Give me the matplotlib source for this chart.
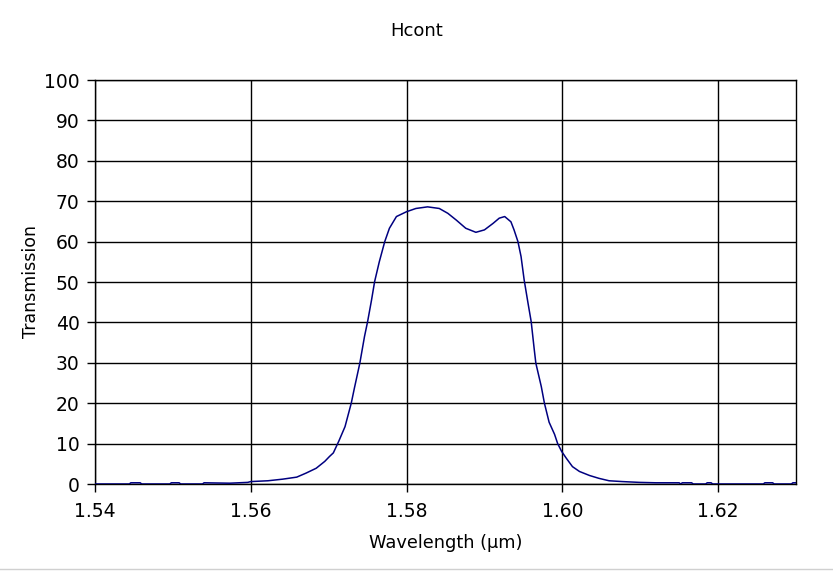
import matplotlib
matplotlib.use("Agg")
import matplotlib.pyplot as plt
from matplotlib.lines import Line2D

wavelength = [1.5400, 1.5444, 1.5446, 1.5458, 1.5460, 1.5496, 1.5498, 1.5508, 1.5510,
              1.5538, 1.5540, 1.5573, 1.5596, 1.5600, 1.5622, 1.5641, 1.5659, 1.5671,
              1.5684, 1.5695, 1.5701, 1.5706, 1.5713, 1.5721, 1.5729, 1.5733, 1.5740,
              1.5746, 1.5750, 1.5755, 1.5759, 1.5765, 1.5772, 1.5778, 1.5787, 1.5800,
              1.5812, 1.5827, 1.5842, 1.5853, 1.5864, 1.5876, 1.5889, 1.5900, 1.5911,
              1.5919, 1.5926, 1.5934, 1.5938, 1.5943, 1.5947, 1.5951, 1.5956, 1.5960,
              1.5964, 1.5966, 1.5973, 1.5977, 1.5983, 1.5990, 1.5994, 1.5999, 1.6005,
              1.6013, 1.6022, 1.6035, 1.6047, 1.6060, 1.6077, 1.6099, 1.6120, 1.6150,
              1.6152, 1.6154, 1.6166, 1.6168, 1.6184, 1.6186, 1.6191, 1.6193, 1.6258,
              1.6260, 1.6270, 1.6272, 1.6294, 1.6296, 1.6300]
transmission = [0.0, 0.0, 0.3, 0.3, 0.0, 0.0, 0.3, 0.3, 0.0,
                0.0, 0.3, 0.2, 0.4, 0.6, 0.8, 1.2, 1.7, 2.7,
                3.9, 5.6, 6.8, 7.7, 10.6, 14.2, 20.0, 23.7, 29.9,
                36.5, 40.2, 45.5, 50.1, 55.0, 60.0, 63.3, 66.2, 67.4,
                68.2, 68.6, 68.2, 67.0, 65.3, 63.3, 62.3, 62.9, 64.5,
                65.8, 66.2, 64.9, 62.9, 60.0, 56.3, 50.5, 44.7, 40.2,
                33.2, 29.9, 24.1, 20.0, 15.3, 12.3, 10.0, 8.1, 6.4,
                4.3, 3.1, 2.1, 1.4, 0.8, 0.6, 0.4, 0.3, 0.3,
                0.0, 0.3, 0.3, 0.0, 0.0, 0.3, 0.3, 0.0, 0.0,
                0.3, 0.3, 0.0, 0.0, 0.3, 0.3]

x_ticks = [1.54, 1.56, 1.58, 1.60, 1.62]
x_tick_labels = ["1.54", "1.56", "1.58", "1.60", "1.62"]
y_ticks = [0, 10, 20, 30, 40, 50, 60, 70, 80, 90, 100]

plt.rcParams['font.family'] = ['DejaVu Sans']

fig = plt.figure(figsize=(8.33, 5.71), dpi=100)
ax = fig.add_axes([95/833, 1 - 484/571, (796 - 95)/833, (484 - 80)/571])

ax.plot(wavelength, transmission, color='#000080', linewidth=1.1, zorder=3)

ax.set_xlim(1.54, 1.63)
ax.set_ylim(0, 100)
ax.set_xticks(x_ticks)
ax.set_xticklabels(x_tick_labels)
ax.set_yticks(y_ticks)
ax.grid(True, color='black', linewidth=1.0)
ax.set_axisbelow(True)
for s in ax.spines.values():
    s.set_color('black')
    s.set_linewidth(1.0)
ax.tick_params(axis='both', direction='out', length=6, width=1.0, color='black',
               labelsize=13.5, pad=5)
ax.tick_params(axis='x', pad=7)

ax.set_xlabel("Wavelength (μm)", fontsize=12.8, labelpad=9)
ax.set_ylabel("Transmission", fontsize=12.5, labelpad=3)
fig.text(0.5, 1 - 31/571, "Hcont", ha='center', va='center', fontsize=13)

fig.add_artist(Line2D([0, 1], [1 - 569/571, 1 - 569/571], color='#d0d0d0',
                      linewidth=1.0, transform=fig.transFigure))

fig.savefig("out.png", dpi=100)
